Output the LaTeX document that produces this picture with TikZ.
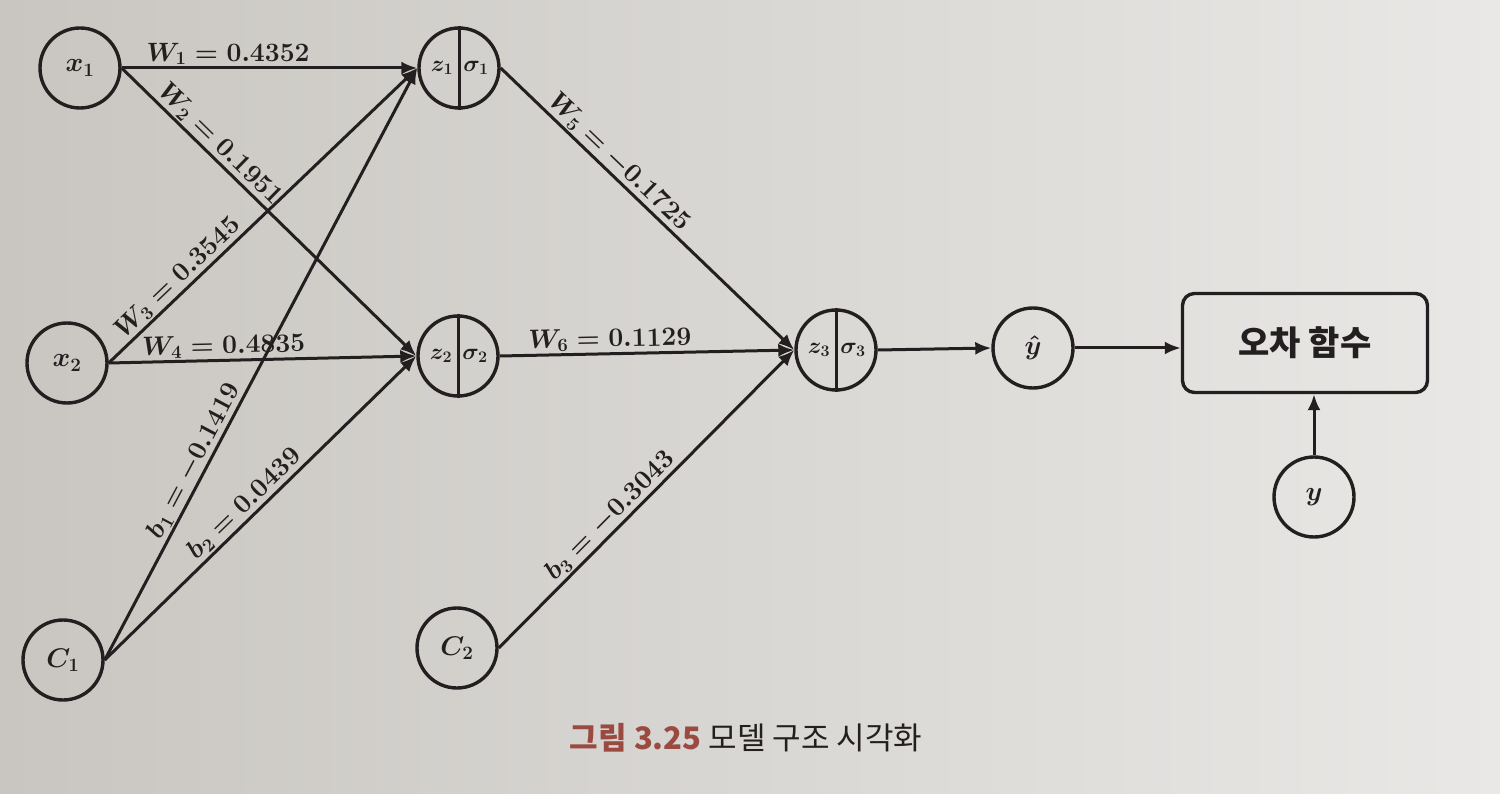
\RequirePackage{fix-cm}
\documentclass[tikz,border=0pt]{standalone}
\usepackage{fontspec}
\usetikzlibrary{arrows.meta}
\newfontfamily\krfont{Noto Sans CJK KR}
\definecolor{ink}{HTML}{231F20}
\definecolor{capred}{HTML}{9B4A42}
\definecolor{bgl}{HTML}{C9C6C1}
\definecolor{bgr}{HTML}{E9E8E6}
\begin{document}
\begin{tikzpicture}[x=1pt,y=-1pt,
  neuron/.style={circle, draw=ink, line width=3.4pt, minimum size=80pt, inner sep=0pt, text=ink,
    font=\boldmath\fontsize{27}{27}\selectfont},
  splitlab/.style={inner sep=0pt, text=ink, font=\boldmath\fontsize{23}{23}\selectfont},
  conn/.style={draw=ink, line width=3pt, -{Latex[length=16pt,width=13pt]}},
  wl/.style={sloped, above, inner sep=1.5pt, text=ink, font=\boldmath\fontsize{26.5}{26.5}\selectfont},
  lossbox/.style={rectangle, rounded corners=12pt, draw=ink, line width=3.4pt,
    minimum width=245pt, minimum height=99pt, text=ink, font=\krfont\bfseries\fontsize{34}{34}\selectfont}
]
\shade[left color=bgl, right color=bgr] (0,0) rectangle (1500,794);
\useasboundingbox (0,0) rectangle (1500,794);

% nodes
\node[neuron] (x1) at (80,68) {$x_1$};
\node[neuron] (x2) at (67,363) {$x_2$};
\node[neuron] (c1) at (63,660) {$C_1$};
\node[neuron] (z1) at (459,68) {};
\node[neuron] (z2) at (458,356) {};
\node[neuron] (c2) at (457,648) {$C_2$};
\node[neuron] (z3) at (836,350) {};
\node[neuron] (yh) at (1033,348) {$\hat{y}$};
\node[lossbox] (loss) at (1305,343) {오차 함수};
\node[neuron] (y) at (1314,497) {$y$};

% split neurons
\foreach \n/\i in {z1/1,z2/2,z3/3}{
  \draw[ink, line width=3pt] (\n.north) -- (\n.south);
  \node[splitlab] (\n a) at ([xshift=-17pt]\n.center) {$z_{\i}$};
  \node[splitlab] (\n b) at ([xshift=17pt]\n.center) {$\sigma_{\i}$};
}

% connections
\draw[conn] (x1.east) -- node[wl, pos=0.36] (l1) {$W_1 = 0.4352$} (z1.west);
\draw[conn] (x1.east) -- node[wl, pos=0.30] (l2) {$W_2 = 0.1951$} (z2.west);
\draw[conn] (x2.east) -- node[wl, pos=0.255] (l3) {$W_3 = 0.3545$} (z1.west);
\draw[conn] (x2.east) -- node[wl, pos=0.375] (l4) {$W_4 = 0.4835$} (z2.west);
\draw[conn] (c1.east) -- node[wl, pos=0.325] (l5) {$b_1 = -0.1419$} (z1.west);
\draw[conn] (c1.east) -- node[wl, pos=0.48] (l6) {$b_2 = 0.0439$} (z2.west);
\draw[conn] (z1.east) -- node[wl, pos=0.37] (l7) {$W_5 = -0.1725$} (z3.west);
\draw[conn] (z2.east) -- node[wl, pos=0.375] (l8) {$W_6 = 0.1129$} (z3.west);
\draw[conn] (c2.east) -- node[wl, pos=0.41] (l9) {$b_3 = -0.3043$} (z3.west);
\draw[conn] (z3.east) -- (yh.west);
\draw[conn] (yh.east) -- (yh.east -| loss.west);
\draw[conn] (y.north) -- (y.north |- loss.south);

% caption
\node[font=\krfont\fontsize{31}{31}\selectfont, text=ink] (cap) at (746,738)
  {{\color{capred}\bfseries 그림 3.25} 모델 구조 시각화};
\end{tikzpicture}
\end{document}
